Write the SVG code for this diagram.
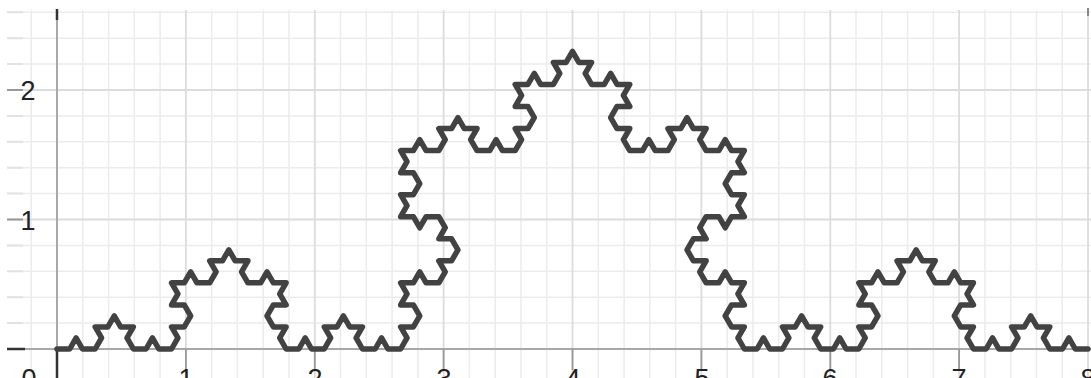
<svg xmlns="http://www.w3.org/2000/svg" width="1091" height="378" viewBox="0 0 1091 378">
<style>
.minor{stroke:#ececec;stroke-width:1.5;fill:none}
.major{stroke:#dcdcdc;stroke-width:1.8;fill:none}
.axis{stroke:#a8a8a8;stroke-width:2;fill:none}
.tick{stroke:#333;stroke-width:2.5;fill:none}
.ytick{stroke:#e2e2e2;stroke-width:2;fill:none}
.lbl{font-family:"Liberation Sans",Arial,sans-serif;font-size:27px;fill:#222;text-anchor:middle}
.koch{fill:none;stroke:#424242;stroke-width:5.5;stroke-linejoin:round;stroke-linecap:round}
</style>
<rect width="1091" height="378" fill="#ffffff"/>
<g id="grid">
<path class="minor" d="M31.2 10V378M82.8 10V378M108.6 10V378M134.3 10V378M160.1 10V378M211.7 10V378M237.4 10V378M263.2 10V378M289 10V378M340.5 10V378M366.3 10V378M392.1 10V378M417.9 10V378M469.4 10V378M495.2 10V378M521 10V378M546.7 10V378M598.3 10V378M624.1 10V378M649.8 10V378M675.6 10V378M727.2 10V378M752.9 10V378M778.7 10V378M804.5 10V378M856 10V378M881.8 10V378M907.6 10V378M933.4 10V378M984.9 10V378M1010.7 10V378M1036.5 10V378M1062.2 10V378"/>
<path class="minor" d="M7 323.1H1091M7 297.2H1091M7 271.3H1091M7 245.4H1091M7 193.6H1091M7 167.7H1091M7 141.8H1091M7 115.9H1091M7 64.1H1091M7 38.2H1091M7 12.3H1091"/>
<path class="major" d="M185.9 10V378M314.8 10V378M443.6 10V378M572.5 10V378M701.4 10V378M830.3 10V378M959.1 10V378M1088 10V378M7 219.5H1091M7 90H1091"/>
</g>
<g id="axes">
<path class="ytick" d="M7 323.1H23M7 297.2H23M7 271.3H23M7 245.4H23M7 193.6H23M7 167.7H23M7 141.8H23M7 115.9H23M7 64.1H23M7 38.2H23M7 12.3H23"/>
<path class="axis" d="M57 10V378M7 349H1091"/>
<path stroke="#999" stroke-width="1.8" d="M7 219.5H23M7 90H23M185.9 349V370M314.8 349V370M443.6 349V370M572.5 349V370M701.4 349V370M830.3 349V370M959.1 349V370"/>
<path class="tick" d="M57 9V20M57 349V378M7 349H25"/>
<path stroke="#888" stroke-width="2" d="M1088 8V16"/>
</g>
<g id="labels">
<text class="lbl" x="28" y="100">2</text>
<text class="lbl" x="28" y="229.5">1</text>
<text class="lbl" x="29" y="388">0</text>
<text class="lbl" x="186" y="388">1</text>
<text class="lbl" x="315" y="388">2</text>
<text class="lbl" x="444" y="388">3</text>
<text class="lbl" x="573" y="388">4</text>
<text class="lbl" x="702" y="388">5</text>
<text class="lbl" x="830" y="388">6</text>
<text class="lbl" x="959" y="388">7</text>
<text class="lbl" x="1088" y="388">8</text>
</g>
<g id="curve">
<path class="koch" d="M57 349
h12.728l6.364-11.023l6.364 11.023h12.728 l6.364-11.023l-6.364-11.023h12.728l6.364-11.023 l6.364 11.023h12.728l-6.364 11.023l6.364 11.023 h12.728l6.364-11.023l6.364 11.023h12.728
l6.364-11.023l-6.364-11.023h12.728l6.364-11.023 l-6.364-11.023h-12.728l6.364-11.023l-6.364-11.023 h12.728l6.364-11.023l6.364 11.023h12.728 l6.364-11.023l-6.364-11.023h12.728l6.364-11.023
l6.364 11.023h12.728l-6.364 11.023l6.364 11.023 h12.728l6.364-11.023l6.364 11.023h12.728 l-6.364 11.023l6.364 11.023h-12.728l-6.364 11.023 l6.364 11.023h12.728l-6.364 11.023l6.364 11.023
h12.728l6.364-11.023l6.364 11.023h12.728 l6.364-11.023l-6.364-11.023h12.728l6.364-11.023 l6.364 11.023h12.728l-6.364 11.023l6.364 11.023 h12.728l6.364-11.023l6.364 11.023h12.728
l6.364-11.023l-6.364-11.023h12.728l6.364-11.023 l-6.364-11.023h-12.728l6.364-11.023l-6.364-11.023 h12.728l6.364-11.023l6.364 11.023h12.728 l6.364-11.023l-6.364-11.023h12.728l6.364-11.023
l-6.364-11.023h-12.728l6.364-11.023l-6.364-11.023 h-12.728l-6.364 11.023l-6.364-11.023h-12.728 l6.364-11.023l-6.364-11.023h12.728l6.364-11.023 l-6.364-11.023h-12.728l6.364-11.023l-6.364-11.023
h12.728l6.364-11.023l6.364 11.023h12.728 l6.364-11.023l-6.364-11.023h12.728l6.364-11.023 l6.364 11.023h12.728l-6.364 11.023l6.364 11.023 h12.728l6.364-11.023l6.364 11.023h12.728
l6.364-11.023l-6.364-11.023h12.728l6.364-11.023 l-6.364-11.023h-12.728l6.364-11.023l-6.364-11.023 h12.728l6.364-11.023l6.364 11.023h12.728 l6.364-11.023l-6.364-11.023h12.728l6.364-11.023
l6.364 11.023h12.728l-6.364 11.023l6.364 11.023 h12.728l6.364-11.023l6.364 11.023h12.728 l-6.364 11.023l6.364 11.023h-12.728l-6.364 11.023 l6.364 11.023h12.728l-6.364 11.023l6.364 11.023
h12.728l6.364-11.023l6.364 11.023h12.728 l6.364-11.023l-6.364-11.023h12.728l6.364-11.023 l6.364 11.023h12.728l-6.364 11.023l6.364 11.023 h12.728l6.364-11.023l6.364 11.023h12.728
l-6.364 11.023l6.364 11.023h-12.728l-6.364 11.023 l6.364 11.023h12.728l-6.364 11.023l6.364 11.023 h-12.728l-6.364 11.023l-6.364-11.023h-12.728 l-6.364 11.023l6.364 11.023h-12.728l-6.364 11.023
l6.364 11.023h12.728l-6.364 11.023l6.364 11.023 h12.728l6.364-11.023l6.364 11.023h12.728 l-6.364 11.023l6.364 11.023h-12.728l-6.364 11.023 l6.364 11.023h12.728l-6.364 11.023l6.364 11.023
h12.728l6.364-11.023l6.364 11.023h12.728 l6.364-11.023l-6.364-11.023h12.728l6.364-11.023 l6.364 11.023h12.728l-6.364 11.023l6.364 11.023 h12.728l6.364-11.023l6.364 11.023h12.728
l6.364-11.023l-6.364-11.023h12.728l6.364-11.023 l-6.364-11.023h-12.728l6.364-11.023l-6.364-11.023 h12.728l6.364-11.023l6.364 11.023h12.728 l6.364-11.023l-6.364-11.023h12.728l6.364-11.023
l6.364 11.023h12.728l-6.364 11.023l6.364 11.023 h12.728l6.364-11.023l6.364 11.023h12.728 l-6.364 11.023l6.364 11.023h-12.728l-6.364 11.023 l6.364 11.023h12.728l-6.364 11.023l6.364 11.023
h12.728l6.364-11.023l6.364 11.023h12.728 l6.364-11.023l-6.364-11.023h12.728l6.364-11.023 l6.364 11.023h12.728l-6.364 11.023l6.364 11.023 h12.728l6.364-11.023l6.364 11.023h12.728"/>
</g>
</svg>
